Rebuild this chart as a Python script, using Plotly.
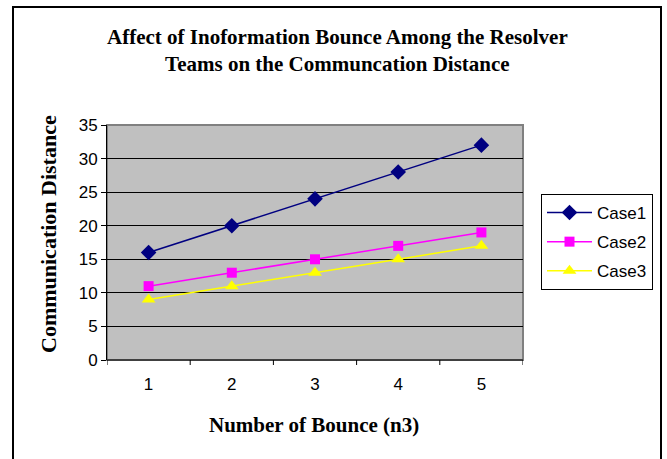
import plotly.graph_objects as go

categories = [1, 2, 3, 4, 5]
case1 = [16, 20, 24, 28, 32]
case2 = [11, 13, 15, 17, 19]
case3 = [9, 11, 13, 15, 17]
series_names = ["Case1", "Case2", "Case3"]
y_ticks = [0, 5, 10, 15, 20, 25, 30, 35]

W, H = 667, 459
L, R, T, B = 107, 144, 125, 99
pw = W - L - R
ph = H - T - B

def px2x(px):
    return (px - L) / pw

def py2y(py):
    return (H - B - py) / ph

fig = go.Figure()
styles = [
    ("#000080", "diamond", 12),
    ("#FF00FF", "square", 10),
    ("#FFFF00", "triangle-up", 12),
]
for name, vals, (col, sym, sz) in zip(series_names, [case1, case2, case3], styles):
    fig.add_trace(go.Scatter(
        x=categories, y=vals, name=name, mode="lines+markers",
        legendgroup=name,
        line=dict(color=col, width=1.5),
        marker=dict(symbol=sym, size=sz, color=col),
    ))

fig.update_layout(
    width=W, height=H,
    margin=dict(l=L, r=R, t=T, b=B),
    paper_bgcolor="white",
    plot_bgcolor="#C0C0C0",
    showlegend=True,
    legend=dict(
        x=px2x(541), y=py2y(194), xanchor="left", yanchor="top",
        bgcolor="white", bordercolor="black", borderwidth=1,
        font=dict(family="Liberation Sans, Arial", size=17, color="black"),
        itemwidth=45, tracegroupgap=4,
    ),
    xaxis=dict(
        range=[0.5, 5.5], tickmode="array", tickvals=categories,
        ticktext=[str(c) for c in categories],
        showgrid=False, zeroline=False,
        showline=False, ticks="",
        tickfont=dict(family="Liberation Sans, Arial", size=17, color="black"),
        ticklabelstandoff=12,
    ),
    yaxis=dict(
        range=[0, 35], tickmode="array", tickvals=y_ticks,
        showgrid=True, gridcolor="black", gridwidth=1,
        zeroline=False, showline=True, linecolor="black", linewidth=1,
        ticks="outside", ticklen=5, tickcolor="black",
        tickfont=dict(family="Liberation Sans, Arial", size=17, color="black"),
    ),
    font=dict(family="Liberation Serif, Times New Roman", color="black"),
)

shapes = []
shapes.append(dict(type="rect", xref="paper", yref="paper", x0=0, x1=1, y0=0, y1=1,
                   line=dict(color="#808080", width=2), layer="below"))
shapes.append(dict(type="line", xref="paper", yref="paper", x0=0, x1=1, y0=0, y1=0,
                   line=dict(color="black", width=1)))
for b in [0.5, 1.5, 2.5, 3.5, 4.5, 5.5]:
    shapes.append(dict(type="line", xref="x", yref="paper", x0=b, x1=b,
                       y0=0, y1=-5 / ph, line=dict(color="black", width=1)))
shapes.append(dict(type="rect", xref="paper", yref="paper",
                   x0=px2x(13), x1=px2x(661), y0=py2y(470), y1=py2y(7),
                   line=dict(color="black", width=2)))
fig.update_layout(shapes=shapes)

fig.add_annotation(
    text="<b>Affect of Inoformation Bounce Among the Resolver<br>Teams on the Communcation Distance</b>",
    xref="paper", yref="paper", x=px2x(337), y=py2y(50),
    xanchor="center", yanchor="middle", showarrow=False,
    font=dict(family="Liberation Serif, Times New Roman", size=21, color="black"),
)
fig.add_annotation(
    text="<b>Number of Bounce (n3)</b>",
    xref="paper", yref="paper", x=px2x(314), y=py2y(425),
    xanchor="center", yanchor="middle", showarrow=False,
    font=dict(family="Liberation Serif, Times New Roman", size=21, color="black"),
)
fig.add_annotation(
    text="<b>Communication Distance</b>",
    xref="paper", yref="paper", x=px2x(48), y=py2y(355),
    xanchor="center", yanchor="bottom", textangle=-90, showarrow=False,
    font=dict(family="Liberation Serif, Times New Roman", size=22, color="black"),
)

fig.write_html("out.html", post_script="document.body.style.margin='0';",
               config={"displayModeBar": False})
